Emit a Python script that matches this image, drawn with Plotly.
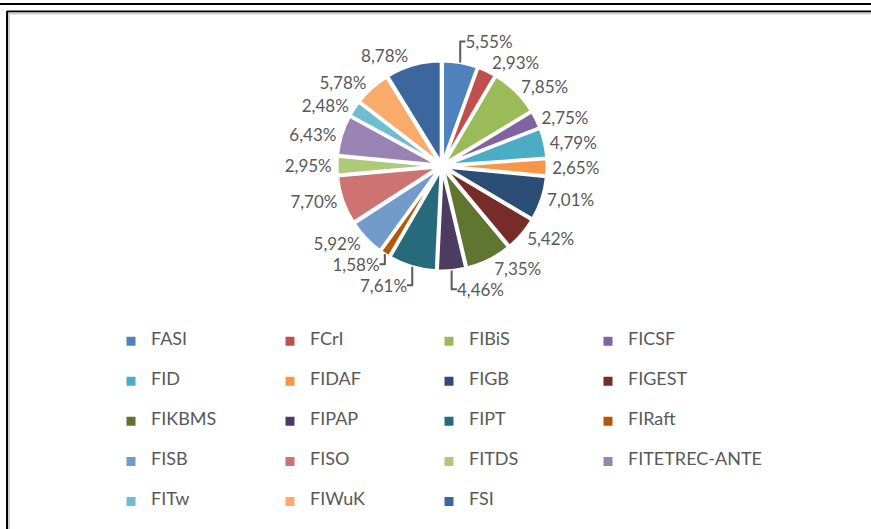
import plotly.graph_objects as go

categories = ["FASI", "FCrI", "FIBiS", "FICSF", "FID", "FIDAF", "FIGB", "FIGEST",
              "FIKBMS", "FIPAP", "FIPT", "FIRaft", "FISB", "FISO", "FITDS",
              "FITETREC-ANTE", "FITw", "FIWuK", "FSI"]
shares = [5.55, 2.93, 7.85, 2.75, 4.79, 2.65, 7.01, 5.42, 7.35, 4.46, 7.61, 1.58,
          5.92, 7.70, 2.95, 6.43, 2.48, 5.78, 8.78]
colors = ["#4F81BD", "#C0504D", "#9BBB59", "#8064A2", "#4BACC6", "#F79646",
          "#2C4D75", "#772C2A", "#5F7530", "#4D3B62", "#276A7C", "#B65708",
          "#729ACA", "#CD7371", "#AFC97A", "#9983B5", "#6FBDD1", "#F9AB6B", "#3B679E"]

W, H = 871, 529
ML, MR = 0, 150
PW = W - ML - MR

def px(x):
    return (x - ML) / PW

def py(y):
    return 1 - y / H

cx, cy, R = 442, 166, 105
FONT = "Lato"
GREY = "#595959"

legend_labels = [" <br><span style='font-size:18px'>%s</span><br> " % c for c in categories]
texts = [("%.2f%%" % v).replace(".", ",") for v in shares]

fig = go.Figure(go.Pie(
    labels=legend_labels,
    values=shares,
    text=texts,
    textinfo="text",
    textposition="outside",
    sort=False,
    direction="clockwise",
    rotation=0,
    pull=0.03,
    marker=dict(colors=colors, line=dict(color="white", width=3)),
    textfont=dict(family=FONT, size=17, color=GREY),
    domain=dict(x=[px(cx - R), px(cx + R)], y=[py(cy + R), py(cy - R)]),
    hoverinfo="skip",
))

shapes = [
    dict(type="line", xref="paper", yref="paper", x0=px(0), x1=px(W), y0=py(4), y1=py(4),
         line=dict(color="black", width=2)),
    dict(type="line", xref="paper", yref="paper", x0=px(7), x1=px(W + 5), y0=py(11.5), y1=py(11.5),
         line=dict(color="black", width=2)),
    dict(type="line", xref="paper", yref="paper", x0=px(7), x1=px(7), y0=py(11), y1=py(H + 5),
         line=dict(color="black", width=2)),
    dict(type="line", xref="paper", yref="paper", x0=px(9), x1=px(W + 5), y0=py(13.5), y1=py(13.5),
         line=dict(color="#d0d0d0", width=2)),
    dict(type="line", xref="paper", yref="paper", x0=px(9), x1=px(9), y0=py(13), y1=py(H + 5),
         line=dict(color="#d0d0d0", width=2)),
]

fig.update_layout(
    width=W, height=H,
    margin=dict(l=ML, r=MR, t=0, b=0),
    paper_bgcolor="white", plot_bgcolor="white",
    font=dict(family=FONT, color=GREY),
    shapes=shapes,
    showlegend=True,
    legend=dict(
        orientation="h",
        x=px(111), xanchor="left",
        y=py(311), yanchor="top",
        entrywidth=114, entrywidthmode="pixels",
        font=dict(family=FONT, size=9.5, color=GREY),
        title=dict(text="M" * 200, font=dict(family=FONT, size=4, color="rgba(0,0,0,0)"), side="top"),
        bgcolor="rgba(0,0,0,0)",
        itemclick=False, itemdoubleclick=False,
    ),
)

fig.write_html("out.html", config={"displayModeBar": False},
               post_script="document.body.style.margin='0';")
